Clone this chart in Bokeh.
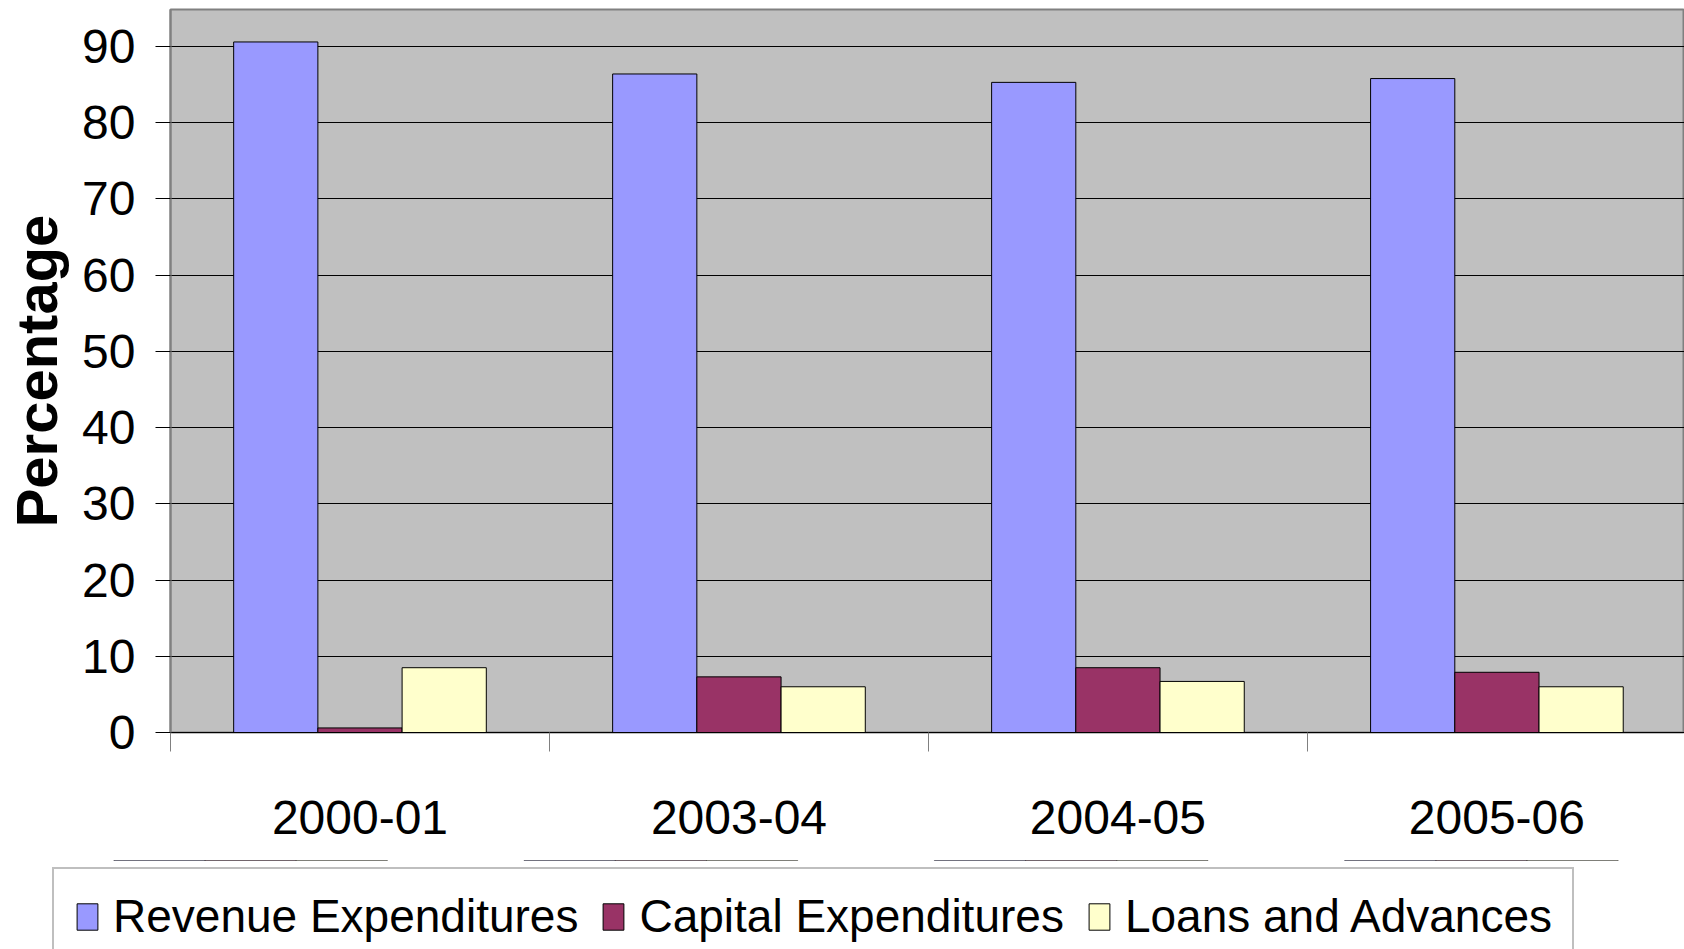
from bokeh.plotting import figure
from bokeh.layouts import column
from bokeh.models import Range1d, FixedTicker, Legend, LegendItem, ColumnDataSource
from bokeh.core.properties import value
from bokeh.embed import file_html
from bokeh.resources import INLINE

# ---- data ----
years = ["2000-01", "2003-04", "2004-05", "2005-06"]
revenue = [90.6, 86.4, 85.3, 85.8]
capital = [0.6, 7.3, 8.5, 7.9]
loans = [8.5, 6.0, 6.7, 6.0]
series_names = ["Revenue Expenditures", "Capital Expenditures", "Loans and Advances"]
series_colors = ["#9999FF", "#993366", "#FFFFCC"]
y_ticks = [0, 10, 20, 30, 40, 50, 60, 70, 80, 90]
y_title = "Percentage"

FONT = "Liberation Sans"

p = figure(width=1684, height=860, output_backend="svg", toolbar_location=None,
           x_range=Range1d(0, 3.995), y_range=Range1d(0, 94.86),
           min_border_left=170, min_border_right=0, min_border_top=9,
           min_border_bottom=128)

p.background_fill_color = "#C0C0C0"
p.border_fill_color = "white"
p.outline_line_color = "#808080"
p.outline_line_width = 2

bar_w = 1 / 4.5
all_series = [revenue, capital, loans]
sources = []
for k, (vals, col) in enumerate(zip(all_series, series_colors)):
    xs = [i + 0.5 + (k - 1) * bar_w for i in range(len(years))]
    src = ColumnDataSource(dict(x=xs, top=vals))
    sources.append(src)
    p.vbar(x="x", top="top", width=bar_w, bottom=0, source=src,
           fill_color=col, line_color="black", line_width=1)

# grid
p.xgrid.visible = False
p.ygrid.grid_line_color = "black"
p.ygrid.grid_line_width = 1
p.ygrid.ticker = FixedTicker(ticks=y_ticks)

# y axis
p.yaxis.ticker = FixedTicker(ticks=y_ticks)
p.yaxis.axis_line_color = "#808080"
p.yaxis.axis_line_width = 2
p.yaxis.major_tick_line_color = "black"
p.yaxis.major_tick_out = 15
p.yaxis.major_tick_in = 0
p.yaxis.minor_tick_line_color = None
p.yaxis.major_label_text_font = FONT
p.yaxis.major_label_text_font_size = "48px"
p.yaxis.major_label_text_color = "black"
p.yaxis.major_label_standoff = 20
p.yaxis.axis_label = y_title
p.yaxis.axis_label_text_font = FONT
p.yaxis.axis_label_text_font_style = "bold"
p.yaxis.axis_label_text_font_size = "58px"
p.yaxis.axis_label_text_color = "black"
p.yaxis.axis_label_standoff = 10

# x axis
centers = [i + 0.5 for i in range(len(years))]
bounds = [float(i) for i in range(len(years))]
p.xaxis.ticker = FixedTicker(ticks=centers, minor_ticks=bounds)
p.xaxis.major_label_overrides = {c: y for c, y in zip(centers, years)}
p.xaxis.axis_line_color = "black"
p.xaxis.major_tick_out = 0
p.xaxis.major_tick_in = 0
p.xaxis.minor_tick_line_color = "#808080"
p.xaxis.minor_tick_out = 19
p.xaxis.minor_tick_in = 0
p.xaxis.major_label_text_font = FONT
p.xaxis.major_label_text_font_size = "48px"
p.xaxis.major_label_text_color = "black"
p.xaxis.major_label_standoff = 49

# legend strip (separate figure below; legend box runs past its bottom edge)
# its bars use the same data but fall outside this strip's y range
lf = figure(width=1684, height=89, output_backend="svg", toolbar_location=None,
            x_axis_type=None, y_axis_type=None,
            x_range=Range1d(0, 3.995), y_range=Range1d(-2, -1),
            min_border_left=45, min_border_right=0, min_border_top=0,
            min_border_bottom=0)
lf.outline_line_color = None
lf.xgrid.visible = False
lf.ygrid.visible = False
lf.background_fill_color = "white"
lf.border_fill_color = "white"

if "frame_align" in p.properties():
    p.frame_align = False
    lf.frame_align = False

items = []
for name, col, src in zip(series_names, series_colors, sources):
    r = lf.vbar(x="x", top="top", width=bar_w, bottom=0, source=src,
                fill_color=col, line_color="black", line_width=1)
    items.append(LegendItem(label=value(name), renderers=[r]))

legend = Legend(items=items, orientation="horizontal", location="top_left", margin=7,
                label_text_font=FONT, label_text_font_size="46px",
                label_text_color="black",
                glyph_width=26, glyph_height=33, label_standoff=13, spacing=22,
                padding=20, border_line_color="#808080", border_line_width=2,
                background_fill_color="white", background_fill_alpha=1.0)
lf.add_layout(legend)

layout = column(p, lf, spacing=0)
open("out.html", "w").write(file_html(layout, INLINE))
